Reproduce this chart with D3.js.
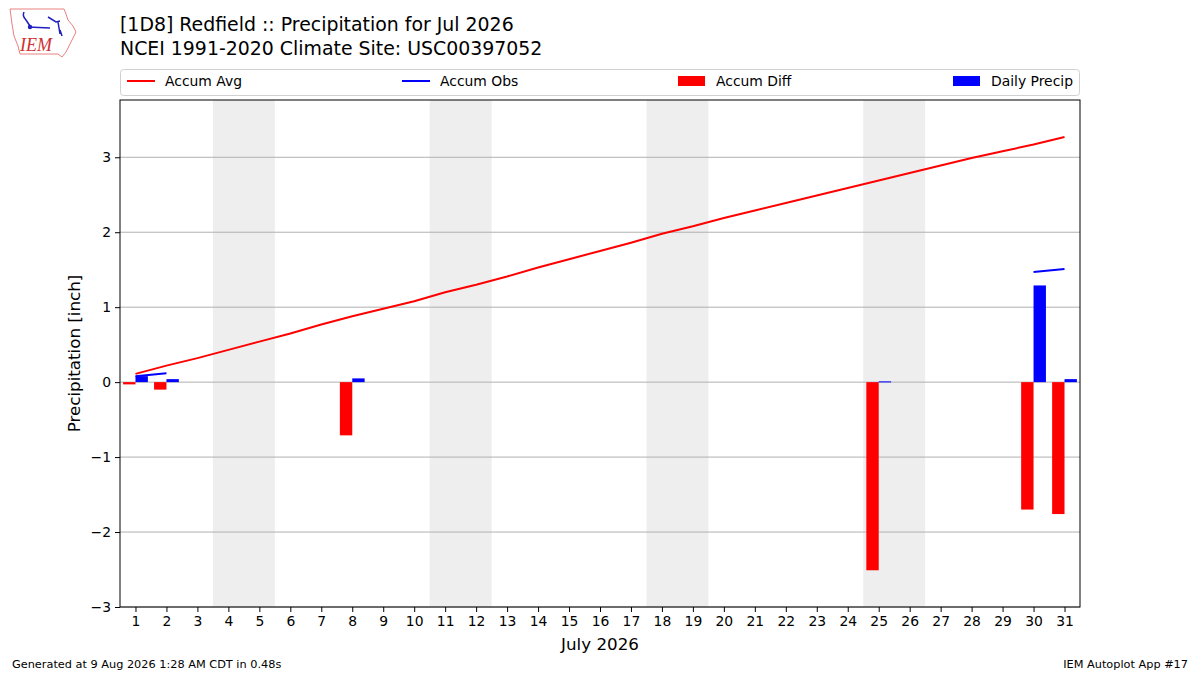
<!DOCTYPE html>
<html>
<head>
<meta charset="utf-8">
<script src="https://cdn.jsdelivr.net/npm/d3@7"></script>
<style>
  body { margin: 0; background: #fff; }
  svg { font-family: "DejaVu Sans", sans-serif; }
</style>
</head>
<body>
<div id="chart"></div>
<script>
// days of July 2026
const days = d3.range(1, 32);

// climatological accumulated precip (inch)
const accumAvg = [0.11, 0.22, 0.32, 0.43, 0.54, 0.65, 0.77, 0.88, 0.98, 1.08,
                  1.20, 1.30, 1.41, 1.53, 1.64, 1.75, 1.86, 1.98, 2.08, 2.19,
                  2.29, 2.39, 2.49, 2.59, 2.69, 2.79, 2.89, 2.99, 3.08, 3.17, 3.27];

// observed accumulation, only reported on days with precip
const accumObs = [0.08, 0.12, null, null, null, null, null, 0.17, null, null,
                  null, null, null, null, null, null, null, null, null, null,
                  null, null, null, null, 0.18, null, null, null, null, 1.47, 1.51];

const accumDiff = [-0.03, -0.10, null, null, null, null, null, -0.71, null, null,
                   null, null, null, null, null, null, null, null, null, null,
                   null, null, null, null, -2.51, null, null, null, null, -1.70, -1.76];

const dailyPrecip = [0.08, 0.04, null, null, null, null, null, 0.05, null, null,
                     null, null, null, null, null, null, null, null, null, null,
                     null, null, null, null, 0.01, null, null, null, null, 1.29, 0.04];

const yTicks = [-3, -2, -1, 0, 1, 2, 3];

const titleLines = ['[1D8] Redfield :: Precipitation for Jul 2026',
                    'NCEI 1991-2020 Climate Site: USC00397052'];

const width = 1200;
const height = 675;
const plotLeft = 120, plotRight = 1080, plotTop = 100, plotBottom = 607;

const xScale = d3.scaleLinear().domain([0.5, 31.5]).range([plotLeft, plotRight]);
const yScale = d3.scaleLinear().domain([-3.0, 3.764]).range([plotBottom, plotTop]);

const svg = d3.select('#chart')
              .append('svg')
              .attr('width', width)
              .attr('height', height);

// weekend shading
const weekends = days.filter(d => new Date(2026, 6, d).getDay() === 6);
svg.append('g')
   .selectAll('rect')
   .data(weekends)
   .join('rect')
   .attr('x', d => xScale(d - 0.5))
   .attr('y', plotTop)
   .attr('width', d => xScale(d + 1.5) - xScale(d - 0.5))
   .attr('height', plotBottom - plotTop)
   .attr('fill', '#eeeeee');

// grid
svg.append('g')
   .selectAll('line')
   .data(yTicks)
   .join('line')
   .attr('x1', plotLeft).attr('x2', plotRight)
   .attr('y1', d => yScale(d)).attr('y2', d => yScale(d))
   .attr('stroke', '#b0b0b0')
   .attr('stroke-width', 1);

const rows = days.map((d, i) => ({
  day: d, avg: accumAvg[i], obs: accumObs[i], diff: accumDiff[i], daily: dailyPrecip[i]
}));

// accum diff bars (left of day)
svg.append('g')
   .selectAll('rect')
   .data(rows.filter(r => r.diff !== null))
   .join('rect')
   .attr('x', r => xScale(r.day - 0.4))
   .attr('width', r => xScale(r.day) - xScale(r.day - 0.4))
   .attr('y', r => yScale(Math.max(0, r.diff)))
   .attr('height', r => Math.abs(yScale(r.diff) - yScale(0)))
   .attr('fill', 'red');

// daily precip bars (right of day)
svg.append('g')
   .selectAll('rect')
   .data(rows.filter(r => r.daily !== null))
   .join('rect')
   .attr('x', r => xScale(r.day))
   .attr('width', r => xScale(r.day + 0.4) - xScale(r.day))
   .attr('y', r => yScale(r.daily))
   .attr('height', r => Math.max(1, yScale(0) - yScale(r.daily)))
   .attr('fill', 'blue');

const avgLine = d3.line()
                  .x(r => xScale(r.day))
                  .y(r => yScale(r.avg));
svg.append('path')
   .datum(rows)
   .attr('d', avgLine)
   .attr('fill', 'none')
   .attr('stroke', 'red')
   .attr('stroke-width', 2);

const obsLine = d3.line()
                  .defined(r => r.obs !== null)
                  .x(r => xScale(r.day))
                  .y(r => yScale(r.obs));
svg.append('path')
   .datum(rows)
   .attr('d', obsLine)
   .attr('fill', 'none')
   .attr('stroke', 'blue')
   .attr('stroke-width', 2);

// axes
const xAxis = d3.axisBottom(xScale).tickValues(days).tickFormat(d3.format('d')).tickSize(5).tickPadding(4);
const yAxis = d3.axisLeft(yScale).tickValues(yTicks)
                .tickFormat(d => d < 0 ? '\u2212' + Math.abs(d) : String(d))
                .tickSize(5).tickPadding(4);

const gx = svg.append('g').attr('transform', `translate(0,${plotBottom})`).call(xAxis);
const gy = svg.append('g').attr('transform', `translate(${plotLeft},0)`).call(yAxis);
[gx, gy].forEach(g => {
  g.select('.domain').remove();
  g.selectAll('text').attr('font-size', 13.9).attr('fill', '#000').attr('font-family', '"DejaVu Sans", sans-serif');
  g.selectAll('line').attr('stroke', '#000');
});

svg.append('rect')
   .attr('x', plotLeft).attr('y', plotTop)
   .attr('width', plotRight - plotLeft).attr('height', plotBottom - plotTop)
   .attr('fill', 'none').attr('stroke', '#000').attr('stroke-width', 1);

svg.append('text')
   .attr('x', (plotLeft + plotRight) / 2).attr('y', 650)
   .attr('text-anchor', 'middle')
   .attr('font-size', 16.7)
   .text('July 2026');

svg.append('text')
   .attr('transform', `translate(80,${(plotTop + plotBottom) / 2}) rotate(-90)`)
   .attr('text-anchor', 'middle')
   .attr('font-size', 16.7)
   .text('Precipitation [inch]');

// title
svg.append('g')
   .selectAll('text')
   .data(titleLines)
   .join('text')
   .attr('x', plotLeft)
   .attr('y', (d, i) => 31 + i * 24)
   .attr('font-size', 18.9)
   .text(d => d);

// legend
const legendItems = [
  { label: 'Accum Avg', color: 'red', kind: 'line', x: 127 },
  { label: 'Accum Obs', color: 'blue', kind: 'line', x: 402 },
  { label: 'Accum Diff', color: 'red', kind: 'patch', x: 678 },
  { label: 'Daily Precip', color: 'blue', kind: 'patch', x: 953 }
];
const legend = svg.append('g');
legend.append('rect')
      .attr('x', 120.5).attr('y', 69.5)
      .attr('width', 959).attr('height', 26)
      .attr('rx', 3)
      .attr('fill', '#fff').attr('stroke', '#d0d0d0');
legendItems.forEach(it => {
  if (it.kind === 'line') {
    legend.append('line')
          .attr('x1', it.x).attr('x2', it.x + 28)
          .attr('y1', 81).attr('y2', 81)
          .attr('stroke', it.color).attr('stroke-width', 2);
  } else {
    legend.append('rect')
          .attr('x', it.x).attr('y', 76)
          .attr('width', 27).attr('height', 10)
          .attr('fill', it.color);
  }
  legend.append('text')
        .attr('x', it.x + 38).attr('y', 86)
        .attr('font-size', 13.9)
        .text(it.label);
});

// footer
svg.append('text')
   .attr('x', 12).attr('y', 668)
   .attr('font-size', 11.3)
   .text('Generated at 9 Aug 2026 1:28 AM CDT in 0.48s');
svg.append('text')
   .attr('x', 1188).attr('y', 668)
   .attr('text-anchor', 'end')
   .attr('font-size', 11.3)
   .text('IEM Autoplot App #17');

// IEM logo (rough)
const logo = svg.append('g');
logo.append('path')
    .attr('d', 'M10,9 L64,9 L66,14 L68,20 L73,26 L76,32 L72,40 L69,46 L66,52 L62,57 L58,54 L20,54 L18,46 L14,36 L12,24 Z')
    .attr('fill', '#fff').attr('stroke', '#e88080').attr('stroke-width', 1);
logo.append('path')
    .attr('d', 'M24,12 Q22,16 26,20 M26,20 L30,26 M28,27 L50,28 M48,17 L56,22 L60,21 M58,22 L60,34 M60,30 L62,36')
    .attr('fill', 'none').attr('stroke', '#2020c0').attr('stroke-width', 1.5);
logo.append('circle').attr('cx', 30).attr('cy', 27).attr('r', 2.2).attr('fill', '#2020c0');
logo.append('text')
    .attr('x', 20).attr('y', 51)
    .attr('font-family', '"Liberation Serif", serif')
    .attr('font-style', 'italic')
    .attr('font-size', 18)
    .attr('fill', '#d03030')
    .text('IEM');
</script>
</body>
</html>
